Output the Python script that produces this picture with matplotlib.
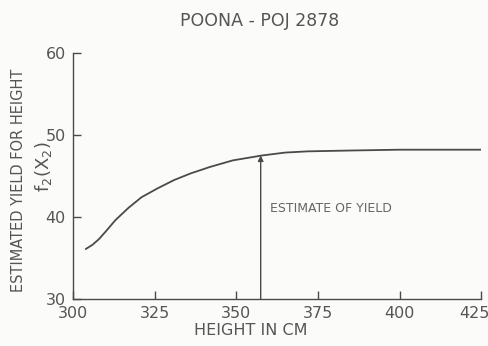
import matplotlib
matplotlib.use("Agg")
import matplotlib.pyplot as plt
from matplotlib.transforms import ScaledTranslation

# curve
height = [304, 306, 308, 310, 313, 317, 321, 326, 331, 336, 342, 349, 358, 365, 372, 385, 400, 412, 425]
yield_est = [36.1, 36.6, 37.3, 38.2, 39.6, 41.1, 42.4, 43.5, 44.5, 45.3, 46.1, 46.9, 47.5, 47.85, 48.0, 48.1, 48.2, 48.2, 48.2]

estimate_x = 357.5
estimate_y = 47.5

xticks = [300, 325, 350, 375, 400, 425]
yticks = [30, 40, 50, 60]

ink = "#4a4a4a"
txt = "#555555"

fig = plt.figure(figsize=(4.89, 3.46), dpi=100, facecolor="#fbfbf9")
ax = fig.add_axes([0.149, 0.136, 0.835, 0.711])
ax.set_facecolor("#fbfbf9")

ax.plot(height, yield_est, color=ink, lw=1.3)
ax.annotate("", xy=(estimate_x, estimate_y), xytext=(estimate_x, 30),
            arrowprops=dict(arrowstyle="-|>", color=ink, lw=1.0,
                            mutation_scale=8, shrinkA=0, shrinkB=0))
ax.text(360.5, 41, "ESTIMATE OF YIELD", fontsize=9, color="#666666",
        va="center", ha="left")

ax.set_xlim(300, 425)
ax.set_ylim(30, 60)
ax.set_xticks(xticks)
ax.set_yticks(yticks)
for s in ["top", "right"]:
    ax.spines[s].set_visible(False)
for s in ["left", "bottom"]:
    ax.spines[s].set_color(ink)
    ax.spines[s].set_linewidth(1.0)
ax.tick_params(direction="in", length=6, width=1.0, color=ink,
               labelcolor=txt, labelsize=11.5, pad=5)

# last x label pulled in so it stays on the page
last = ax.get_xticklabels()[-1]
last.set_horizontalalignment("right")
last.set_transform(last.get_transform() + ScaledTranslation(6 / 72, 0, fig.dpi_scale_trans))

fig.text(0.513, 0.046, "HEIGHT IN CM", fontsize=11.5, color=txt,
         ha="center", va="center")
fig.text(0.038, 0.48, "ESTIMATED YIELD FOR HEIGHT", rotation=90,
         fontsize=10.5, color=txt, ha="center", va="center")
fig.text(0.088, 0.517, "f$_2$(X$_2$)", rotation=90,
         fontsize=13, color=txt, ha="center", va="center")
fig.text(0.53, 0.94, "POONA - POJ 2878", fontsize=12.5, color=txt,
         ha="center", va="center")

fig.savefig("out.png", dpi=100, facecolor=fig.get_facecolor())
